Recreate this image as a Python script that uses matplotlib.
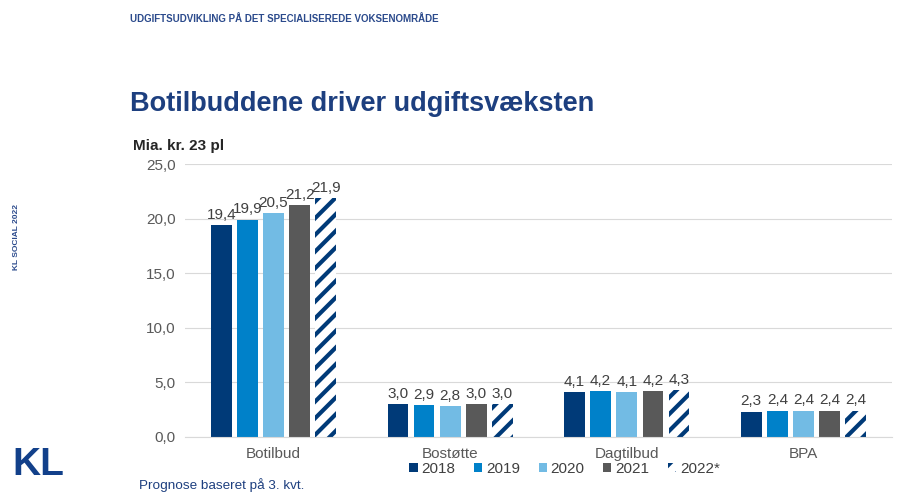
import matplotlib
matplotlib.use("Agg")
import matplotlib.pyplot as plt
import numpy as np

categories = ["Botilbud", "Bostøtte", "Dagtilbud", "BPA"]
years = ["2018", "2019", "2020", "2021", "2022*"]
v2018 = [19.4, 3.0, 4.1, 2.3]
v2019 = [19.9, 2.9, 4.2, 2.4]
v2020 = [20.5, 2.8, 4.1, 2.4]
v2021 = [21.2, 3.0, 4.2, 2.4]
v2022 = [21.9, 3.0, 4.3, 2.4]
series = [v2018, v2019, v2020, v2021, v2022]
yticks = [0, 5, 10, 15, 20, 25]

navy = "#003a78"
colors = [navy, "#0081c9", "#72bbe4", "#595959", "white"]

plt.rcParams['font.family'] = ['Liberation Sans', 'DejaVu Sans']
plt.rcParams['hatch.linewidth'] = 3.0
plt.rcParams['hatch.color'] = navy

fig = plt.figure(figsize=(8.99, 4.97), dpi=100)
ax = fig.add_axes([0.206, 0.121, 0.786, 0.549])

x = np.arange(len(categories))
w = 0.117
step = 0.148
for i, vals in enumerate(series):
    pos = x + (i - 2) * step
    if i == 4:
        ax.bar(pos, vals, w, color="white", edgecolor=navy, linewidth=0,
               hatch="//", label=years[i])
    else:
        ax.bar(pos, vals, w, color=colors[i], label=years[i])
    for p, v in zip(pos, vals):
        ax.text(p, v + 0.3, f"{v:.1f}".replace(".", ","), ha="center", va="bottom",
                fontsize=11, color="#404040")

ax.set_xlim(-0.5, 3.5)
ax.set_ylim(0, 25)
ax.set_yticks(yticks)
ax.set_yticklabels([f"{t:.1f}".replace(".", ",") for t in yticks], fontsize=11, color="#595959")
ax.set_xticks(x)
ax.set_xticklabels(categories, fontsize=11, color="#595959")
ax.tick_params(axis="both", length=0, pad=7)
ax.yaxis.grid(True, color="#d9d9d9", linewidth=0.8)
ax.set_axisbelow(True)
for s in ["top", "right", "left"]:
    ax.spines[s].set_visible(False)
ax.spines["bottom"].set_color("#d9d9d9")

leg = fig.legend(loc="center", bbox_to_anchor=(0.628, 0.056), ncol=5, frameon=False,
                 fontsize=11, handlelength=0.55, handleheight=0.55, handletextpad=0.25,
                 columnspacing=1.2)
for t in leg.get_texts():
    t.set_color("#404040")

fig.text(0.145, 0.962, "UDGIFTSUDVIKLING PÅ DET SPECIALISEREDE VOKSENOMRÅDE",
         fontsize=7, fontweight="bold", color="#2b4a8c", va="center")
fig.text(0.145, 0.79, "Botilbuddene driver udgiftsvæksten", fontsize=19.5,
         fontweight="bold", color="#1d3f7f", va="center")
fig.text(0.148, 0.706, "Mia. kr. 23 pl", fontsize=11, fontweight="bold",
         color="#262626", va="center")
fig.text(0.018, 0.523, "KL SOCIAL 2022", fontsize=6, fontweight="bold",
         color="#2b4a8c", rotation=90, ha="center", va="center")
fig.text(0.014, 0.064, "KL", fontsize=28, fontweight="bold", color="#12408a",
         va="center")
fig.text(0.155, 0.024, "Prognose baseret på 3. kvt.", fontsize=9.7,
         color="#1d3f7f", va="center")

fig.savefig("out.png", dpi=100)
